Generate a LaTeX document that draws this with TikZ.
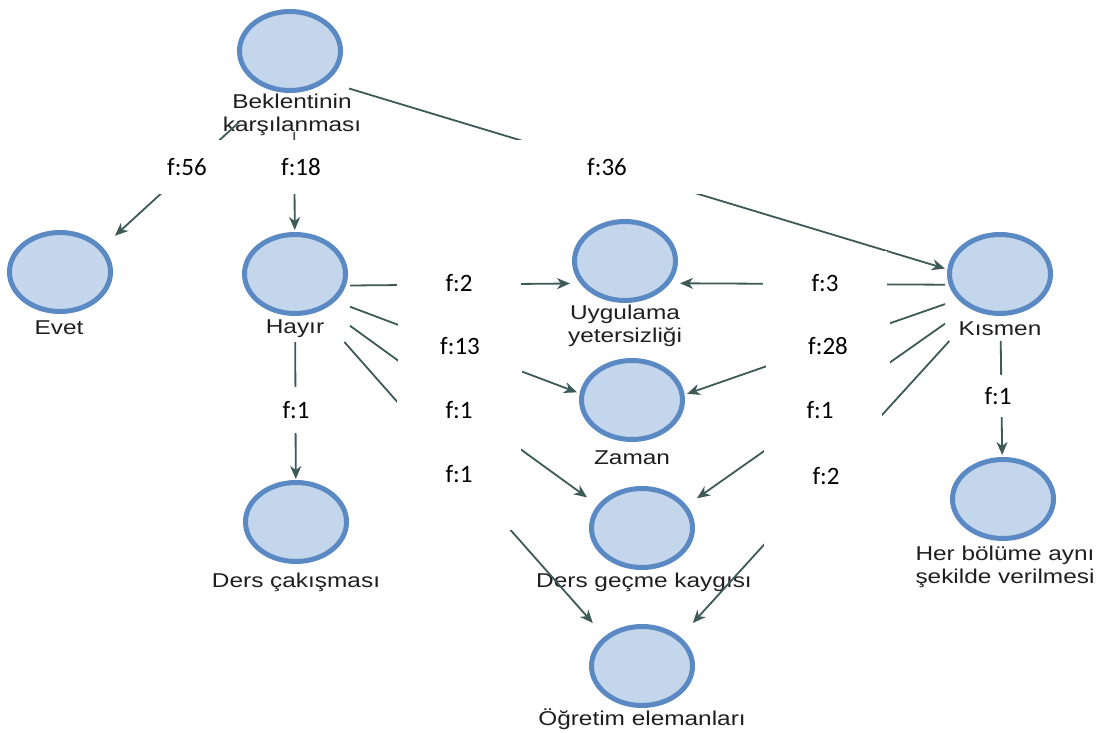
\documentclass[tikz,border=0pt]{standalone}
\usepackage{fontspec}
\usetikzlibrary{shapes.geometric,arrows.meta}
\newfontfamily\labfont[FakeStretch=1.22]{Liberation Sans}
\newfontfamily\ffont{Carlito}
\definecolor{discfill}{HTML}{C4D6EB}
\definecolor{discring}{HTML}{5A89C4}
\definecolor{linkcol}{HTML}{3D5A58}

\begin{document}
\begin{tikzpicture}[x=1pt,y=-1pt,
  hub/.style={rectangle, inner sep=0pt, outer sep=0pt, minimum width=110pt, minimum height=112pt},
  disc/.style={ellipse, draw=discring, line width=5pt, fill=discfill,
    minimum width=101pt, minimum height=79pt, inner sep=0pt},
  ctext/.style={font=\labfont\fontsize{20}{23}\selectfont, text=black!88,
    align=center, inner sep=0pt},
  link/.style={draw=linkcol, line width=1.8pt},
  arr/.style={link, -{Stealth[length=13pt,width=11pt,inset=4pt]}},
  fbox/.style={fill=white, inner sep=0pt, font=\ffont\fontsize{25}{28}\selectfont,
    text=black, minimum width=124pt, minimum height=64pt},
]
\fill[white] (0,0) rectangle (1103,733);
\useasboundingbox (0,0) rectangle (1103,733);

% connection areas of the codes (circle plus caption)
\node[hub, minimum height=120pt] (bek) at (294,72) {};
\node[hub] (evet)   at (60,286) {};
\node[hub] (hayir)  at (295,286) {};
\node[hub] (cak)    at (296,535) {};
\node[hub, minimum height=128pt] (uyg) at (625,283) {};
\node[hub] (zaman)  at (632,413) {};
\node[hub] (gecme)  at (642,537) {};
\node[hub] (ogr)    at (642,679) {};
\node[hub] (kismen) at (1000,285) {};
\node[hub, minimum height=128pt] (her) at (1003,519) {};

% circles
\node[disc] (bekD)    at (290,51)  {};
\node[disc] (evetD)   at (60,272)  {};
\node[disc] (hayirD)  at (295,274) {};
\node[disc] (cakD)    at (296,522) {};
\node[disc] (uygD)    at (625,261) {};
\node[disc] (zamanD)  at (632,400) {};
\node[disc] (gecmeD)  at (642,528) {};
\node[disc] (ogrD)    at (642,666) {};
\node[disc] (kismenD) at (1000,274) {};
\node[disc] (herD)    at (1003,499) {};

% captions
\node[ctext] (bekT)    at (292,115) {Beklentinin\\karşılanması};
\node[ctext] (evetT)   at (59,328)  {Evet};
\node[ctext] (hayirT)  at (295,329) {Hayır};
\node[ctext] (cakT)    at (296,582) {Ders çakışması};
\node[ctext] (uygT)    at (625,326) {Uygulama\\yetersizliği};
\node[ctext] (zamanT)  at (632,458) {Zaman};
\node[ctext] (gecmeT)  at (644,582) {Ders geçme kaygısı};
\node[ctext] (ogrT)    at (642,719) {Öğretim elemanları};
\node[ctext] (kismenT) at (1000,329) {Kısmen};
\node[ctext] (herT)    at (1005,567) {Her bölüme aynı\\şekilde verilmesi};

% links
\draw[arr] (bek) -- (evet);
\draw[arr] (bek) -- (hayir);
\draw[arr] (bek) -- (kismen);
\draw[arr] (hayir) -- (cak);
\draw[arr] (hayir) -- (uyg);
\draw[arr] (hayir) -- (zaman);
\draw[arr] (hayir) -- (gecme);
\draw[arr] (hayir) -- (ogr);
\draw[arr] (kismen) -- (uyg);
\draw[arr] (kismen) -- (zaman);
\draw[arr] (kismen) -- (gecme);
\draw[arr] (kismen) -- (ogr);
\draw[arr] (kismen) -- (her);

% frequency boxes
\node[fbox, minimum width=115pt, minimum height=54pt] (f56) at (187,167) {f:56};
\node[fbox, minimum width=100pt, minimum height=54pt] (f18) at (301,167) {f:18};
\node[fbox, minimum width=196pt, minimum height=54pt] (f36) at (607,167) {f:36};

\node[fbox] (hU) at (459,283) {f:2};
\node[fbox] (hZ) at (460,346) {f:13};
\node[fbox] (hG) at (459,410) {f:1};
\node[fbox, minimum height=88pt] (hO) at (459,486) {\raisebox{12pt}[\height][\depth]{f:1}};
\node[fbox, minimum width=60pt, minimum height=46pt] (hC) at (296,410) {f:1};

\node[fbox] (kU) at (825,283) {f:3};
\node[fbox] (kZ) at (828,346) {f:28};
\node[fbox] (kG) at (820,410) {f:1};
\node[fbox, minimum height=106pt] (kO) at (826,495) {\raisebox{19pt}[\height][\depth]{f:2}};
\node[fbox, minimum width=60pt, minimum height=42pt] (kH) at (998,396) {f:1};
\end{tikzpicture}
\end{document}
